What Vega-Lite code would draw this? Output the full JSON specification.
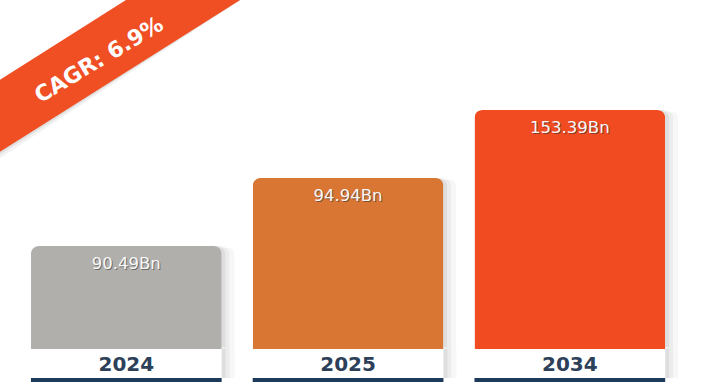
{
  "$schema": "https://vega.github.io/schema/vega-lite/v6.json",
  "padding": 0,
  "spacing": 0,
  "background": "white",
  "config": {"view": {"stroke": null}},
  "data": {"values": [
    {"year": "2024", "value": 90.49, "label": "90.49Bn"},
    {"year": "2025", "value": 94.94, "label": "94.94Bn"},
    {"year": "2034", "value": 153.39, "label": "153.39Bn"}
  ]},
  "vconcat": [
    {
      "width": 703,
      "height": 349,
      "layer": [
        {
          "encoding": {
            "x": {"field": "year", "type": "nominal", "sort": null, "axis": null,
                  "scale": {"paddingInner": 0.14, "paddingOuter": 0.155, "align": 0.45}},
            "y": {"field": "value", "type": "quantitative", "axis": null,
                  "scale": {"domain": [0, 90.49, 94.94, 153.39], "range": [349, 246, 178, 110], "nice": false, "zero": false}}
          },
          "layer": [
            {"mark": {"type": "bar", "color": "#000", "opacity": 0.03, "xOffset": 13, "yOffset": 2, "cornerRadiusTopLeft": 9, "cornerRadiusTopRight": 9}},
            {"mark": {"type": "bar", "color": "#000", "opacity": 0.045, "xOffset": 8, "yOffset": 0, "cornerRadiusTopLeft": 9, "cornerRadiusTopRight": 9}},
            {"mark": {"type": "bar", "color": "#000", "opacity": 0.06, "xOffset": 4, "yOffset": -2, "cornerRadiusTopLeft": 9, "cornerRadiusTopRight": 9}},
            {
              "mark": {"type": "bar", "cornerRadiusTopLeft": 8, "cornerRadiusTopRight": 8},
              "encoding": {
                "color": {"field": "year", "type": "nominal", "legend": null,
                          "scale": {"domain": ["2024", "2025", "2034"], "range": ["#b1afac", "#d97634", "#f04b21"]}}
              }
            },
            {
              "mark": {"type": "text", "font": "DejaVu Sans", "fontSize": 16.5, "baseline": "middle", "dy": 19, "dx": 1, "color": "#333333", "opacity": 0.55},
              "encoding": {"text": {"field": "label", "type": "nominal"}}
            },
            {
              "mark": {"type": "text", "font": "DejaVu Sans", "fontSize": 16.5, "baseline": "middle", "dy": 18, "color": "#f7f7f7"},
              "encoding": {"text": {"field": "label", "type": "nominal"}}
            }
          ]
        },
        {
          "data": {"values": [{"note": "CAGR: 6.9%"}]},
          "encoding": {
            "x": {"datum": -40, "type": "quantitative", "axis": null, "scale": {"domain": [0, 703], "nice": false, "zero": false}},
            "y": {"datum": 141, "type": "quantitative", "axis": null, "scale": {"domain": [0, 349], "reverse": true, "nice": false, "zero": false}},
            "x2": {"datum": 240},
            "y2": {"datum": -36}
          },
          "layer": [
            {"mark": {"type": "rule", "clip": true, "strokeWidth": 61, "strokeCap": "butt", "color": "#000", "opacity": 0.05, "yOffset": 7}},
            {"mark": {"type": "rule", "clip": true, "strokeWidth": 61, "strokeCap": "butt", "color": "#000", "opacity": 0.08, "yOffset": 3}},
            {"mark": {"type": "rule", "clip": true, "strokeWidth": 61, "strokeCap": "butt", "color": "#f04e23"}},
            {
              "mark": {"type": "text", "font": "DejaVu Sans", "fontWeight": "bold", "fontSize": 22, "angle": -31, "align": "center", "baseline": "middle", "color": "white"},
              "encoding": {
                "x": {"datum": 99, "type": "quantitative"},
                "y": {"datum": 60, "type": "quantitative"},
                "x2": null,
                "y2": null,
                "text": {"field": "note", "type": "nominal"}
              }
            }
          ]
        }
      ],
      "resolve": {"scale": {"x": "independent", "y": "independent"}}
    },
    {
      "width": 703,
      "height": 29,
      "encoding": {
        "x": {"field": "year", "type": "nominal", "sort": null, "axis": null,
              "scale": {"paddingInner": 0.14, "paddingOuter": 0.155, "align": 0.45}}
      },
      "layer": [
        {"mark": {"type": "bar", "color": "#000", "opacity": 0.03, "xOffset": 13}},
        {"mark": {"type": "bar", "color": "#000", "opacity": 0.045, "xOffset": 8}},
        {"mark": {"type": "bar", "color": "#000", "opacity": 0.06, "xOffset": 4}},
        {"mark": {"type": "bar", "color": "white"}},
        {
          "mark": {"type": "text", "font": "DejaVu Sans", "fontWeight": "bold", "fontSize": 20, "baseline": "middle", "dy": 1, "color": "#2d4059"},
          "encoding": {"text": {"field": "year", "type": "nominal"}}
        }
      ]
    },
    {
      "width": 703,
      "height": 4,
      "mark": {"type": "bar", "color": "#1d3a5b"},
      "encoding": {
        "x": {"field": "year", "type": "nominal", "sort": null, "axis": null,
              "scale": {"paddingInner": 0.14, "paddingOuter": 0.155, "align": 0.45}}
      }
    }
  ]
}
